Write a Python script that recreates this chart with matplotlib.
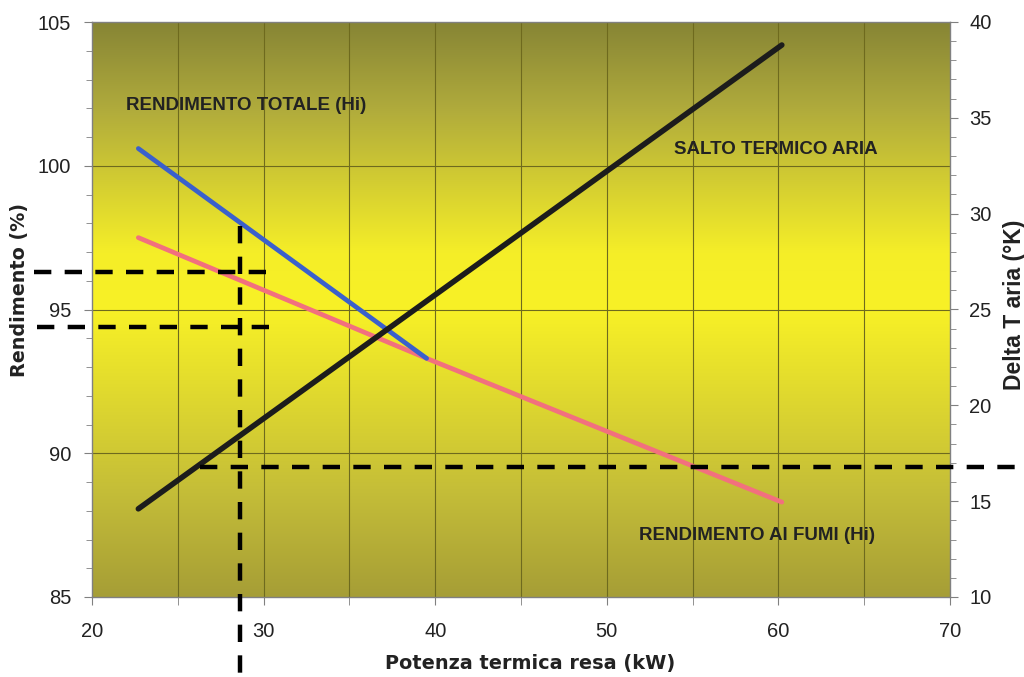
import numpy as np
import matplotlib
matplotlib.use("Agg")
import matplotlib.pyplot as plt
from matplotlib.colors import LinearSegmentedColormap
from matplotlib.ticker import MultipleLocator

# ---- data ----
x_totale = [22.7, 39.5]
y_totale = [100.6, 93.3]
x_fumi = [22.7, 39.5, 60.2]
y_fumi = [97.5, 93.3, 88.3]
x_salto = [22.7, 60.2]
y_salto = [14.6, 38.8]

# reading guides (dashed)
guide_x = 28.6            # kW
guide_x_top = 97.9        # %
guide_rend_hi = 96.3      # %
guide_rend_lo = 94.4      # %
guide_dt = 16.8           # K
guide_dt_start = 26.3     # kW

x_ticks = [20, 30, 40, 50, 60, 70]
y_left_ticks = [85, 90, 95, 100, 105]
y_right_ticks = [10, 15, 20, 25, 30, 35, 40]

plt.rcParams['font.family'] = ['Liberation Sans', 'DejaVu Sans']

fig = plt.figure(figsize=(10.24, 6.77), dpi=100)
ax = fig.add_axes([92/1024, 1-597/677, (950-92)/1024, (597-22)/677])

# gradient background
cmap = LinearSegmentedColormap.from_list(
    "bg", [(0.0, "#a69e36"), (0.18, "#c4bd38"), (0.5, "#f8f126"),
           (0.6, "#f5ee28"), (0.85, "#b0ab3c"), (1.0, "#878535")])
grad = np.linspace(0, 1, 256).reshape(-1, 1)
ax.imshow(grad, extent=[20, 70, 85, 105], origin="lower", aspect="auto",
          cmap=cmap, zorder=0, interpolation="bicubic")

ax.set_xlim(20, 70)
ax.set_ylim(85, 105)
ax.set_xticks(x_ticks)
ax.xaxis.set_minor_locator(MultipleLocator(5))
ax.set_yticks(y_left_ticks)
ax.yaxis.set_minor_locator(MultipleLocator(1))

# grid
for gx in np.arange(25, 70, 5):
    ax.axvline(gx, color="#6e6a1e", lw=0.8, zorder=1)
for gy in [90, 95, 100]:
    ax.axhline(gy, color="#6e6a1e", lw=0.8, zorder=1)

ax.tick_params(axis="both", which="both", direction="out", color="#808080",
               labelsize=14.5, labelcolor="#222222")
ax.tick_params(axis="y", which="major", length=6, pad=9)
ax.tick_params(axis="y", which="minor", length=4)
ax.tick_params(axis="x", which="both", length=6, pad=12)

for s in ["left", "right", "top", "bottom"]:
    ax.spines[s].set_color("#808080")
    ax.spines[s].set_linewidth(1.0)

# lines
ax.plot(x_fumi, y_fumi, color="#f2707e", lw=3.4, solid_capstyle="round", zorder=3)
ax.plot(x_totale, y_totale, color="#3a60cc", lw=3.4, solid_capstyle="round", zorder=4)

ax2 = ax.twinx()
ax2.set_ylim(10, 40)
ax2.set_yticks(y_right_ticks)
ax2.yaxis.set_minor_locator(MultipleLocator(1))
ax2.tick_params(axis="y", which="both", direction="out", color="#808080",
                labelsize=14.5, labelcolor="#222222")
ax2.tick_params(axis="y", which="major", length=6, pad=8)
ax2.tick_params(axis="y", which="minor", length=4)
for s in ["left", "right", "top", "bottom"]:
    ax2.spines[s].set_visible(False)
ax2.plot(x_salto, y_salto, color="#1c1c1c", lw=4.0, solid_capstyle="round", zorder=5)

dash = dict(color="black", lw=3.2, linestyle=(0, (3.9, 3.0)), clip_on=False, zorder=6)
# vertical guide
ax.plot([guide_x, guide_x], [guide_x_top, 82.0], **dash)
# horizontal guides on left
ax.plot([16.6, 30.15], [guide_rend_hi, guide_rend_hi], **dash)
ax.plot([16.8, 30.4], [guide_rend_lo, guide_rend_lo], **dash)
# horizontal guide on right axis
ax2.plot([guide_dt_start, 74.5], [guide_dt, guide_dt], **dash)

# annotations
tkw = dict(fontsize=13.5, fontweight="bold", color="#222222", ha="center", va="center")
ax.text(29.0, 102.1, "RENDIMENTO TOTALE (Hi)", **tkw)
ax.text(59.85, 100.55, "SALTO TERMICO ARIA", **tkw)
ax.text(58.75, 87.15, "RENDIMENTO AI FUMI (Hi)", **tkw)

# axis labels
fig.text(530/1024, 1-663/677, "Potenza termica resa (kW)", fontsize=13.9, fontweight="bold",
         family="DejaVu Sans", color="#222222", ha="center", va="center")
fig.text(20/1024, 1-290/677, "Rendimento (%)", fontsize=13.8, fontweight="bold", rotation=90,
         family="DejaVu Sans", color="#222222", ha="center", va="center")
fig.text(1014/1024, 1-305/677, "Delta T aria (°K)", fontsize=16.5, fontweight="bold", rotation=90,
         color="#222222", ha="center", va="center")

fig.savefig("out.png", dpi=100)
